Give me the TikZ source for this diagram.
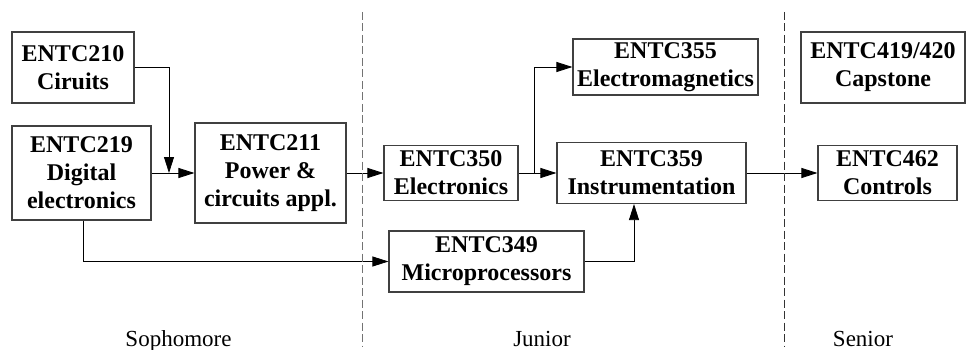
\documentclass[tikz,border=0pt]{standalone}
\usepackage{fontspec}
\setmainfont{Liberation Serif}
\usetikzlibrary{arrows.meta}

\begin{document}
\begin{tikzpicture}[x=1pt, y=-1pt, line width=0.8pt, >={Triangle[length=16pt,width=10pt]},
  course/.style={draw=black!75, line width=1.1pt, align=center, inner sep=0pt,
    font=\fontsize{24}{28}\selectfont\bfseries},
  year/.style={anchor=base, font=\fontsize{23}{27}\selectfont},
  divider/.style={dash pattern=on 8pt off 3.5pt, line width=1pt}]
  \useasboundingbox (0,0) rectangle (974,350);

  % sophomore
  \node[course, minimum width=122pt, minimum height=71pt] (c210) at (73,67.5) {ENTC210\\Ciruits};
  \node[course, minimum width=139pt, minimum height=94pt] (c219) at (81.5,173) {ENTC219\\Digital\\electronics};
  \node[course, minimum width=151pt, minimum height=100pt] (c211) at (270.5,173) {ENTC211\\Power \&\\circuits appl.};

  % junior
  \node[course, minimum width=134pt, minimum height=55pt] (c350) at (451,173) {ENTC350\\Electronics};
  \node[course, minimum width=185pt, minimum height=56pt] (c355) at (665.5,67) {ENTC355\\Electromagnetics};
  \node[course, minimum width=189pt, minimum height=61pt] (c359) at (651.5,173) {ENTC359\\Instrumentation};
  \node[course, minimum width=195pt, minimum height=61pt] (c349) at (486.5,261.5) {ENTC349\\Microprocessors};

  % senior
  \node[course, minimum width=164pt, minimum height=71pt] (c419) at (883,67.5) {ENTC419/420\\Capstone};
  \node[course, minimum width=139pt, minimum height=55pt] (c462) at (887.5,173) {ENTC462\\Controls};

  \coordinate (j1) at (169,173);
  \coordinate (j2) at (534,173);

  \draw[->] (c210.east) -| (j1);
  \draw[->] (c219.east) -- (c211.west);
  \draw[->] (c211.east) -- (c350.west);
  \draw[->] (c350.east) -- (c359.west);
  \draw[->] (j2) |- (c355.west);
  \draw[->] (c359.east) -- (c462.west);
  \draw[->] ([xshift=72pt]c219.south west) |- (c349.west);
  \draw[->] (c349.east) -| ([xshift=-17.5pt]c359.south);

  % year dividers
  \draw[divider, black!55] (362,12) -- (362,346);
  \draw[divider, black!80] (784,12) -- (784,346);

  \node[year] (soph) at (178.5,346) {Sophomore};
  \node[year] (jun) at (542,346) {Junior};
  \node[year] (sen) at (863,346) {Senior};

\end{tikzpicture}
\end{document}
